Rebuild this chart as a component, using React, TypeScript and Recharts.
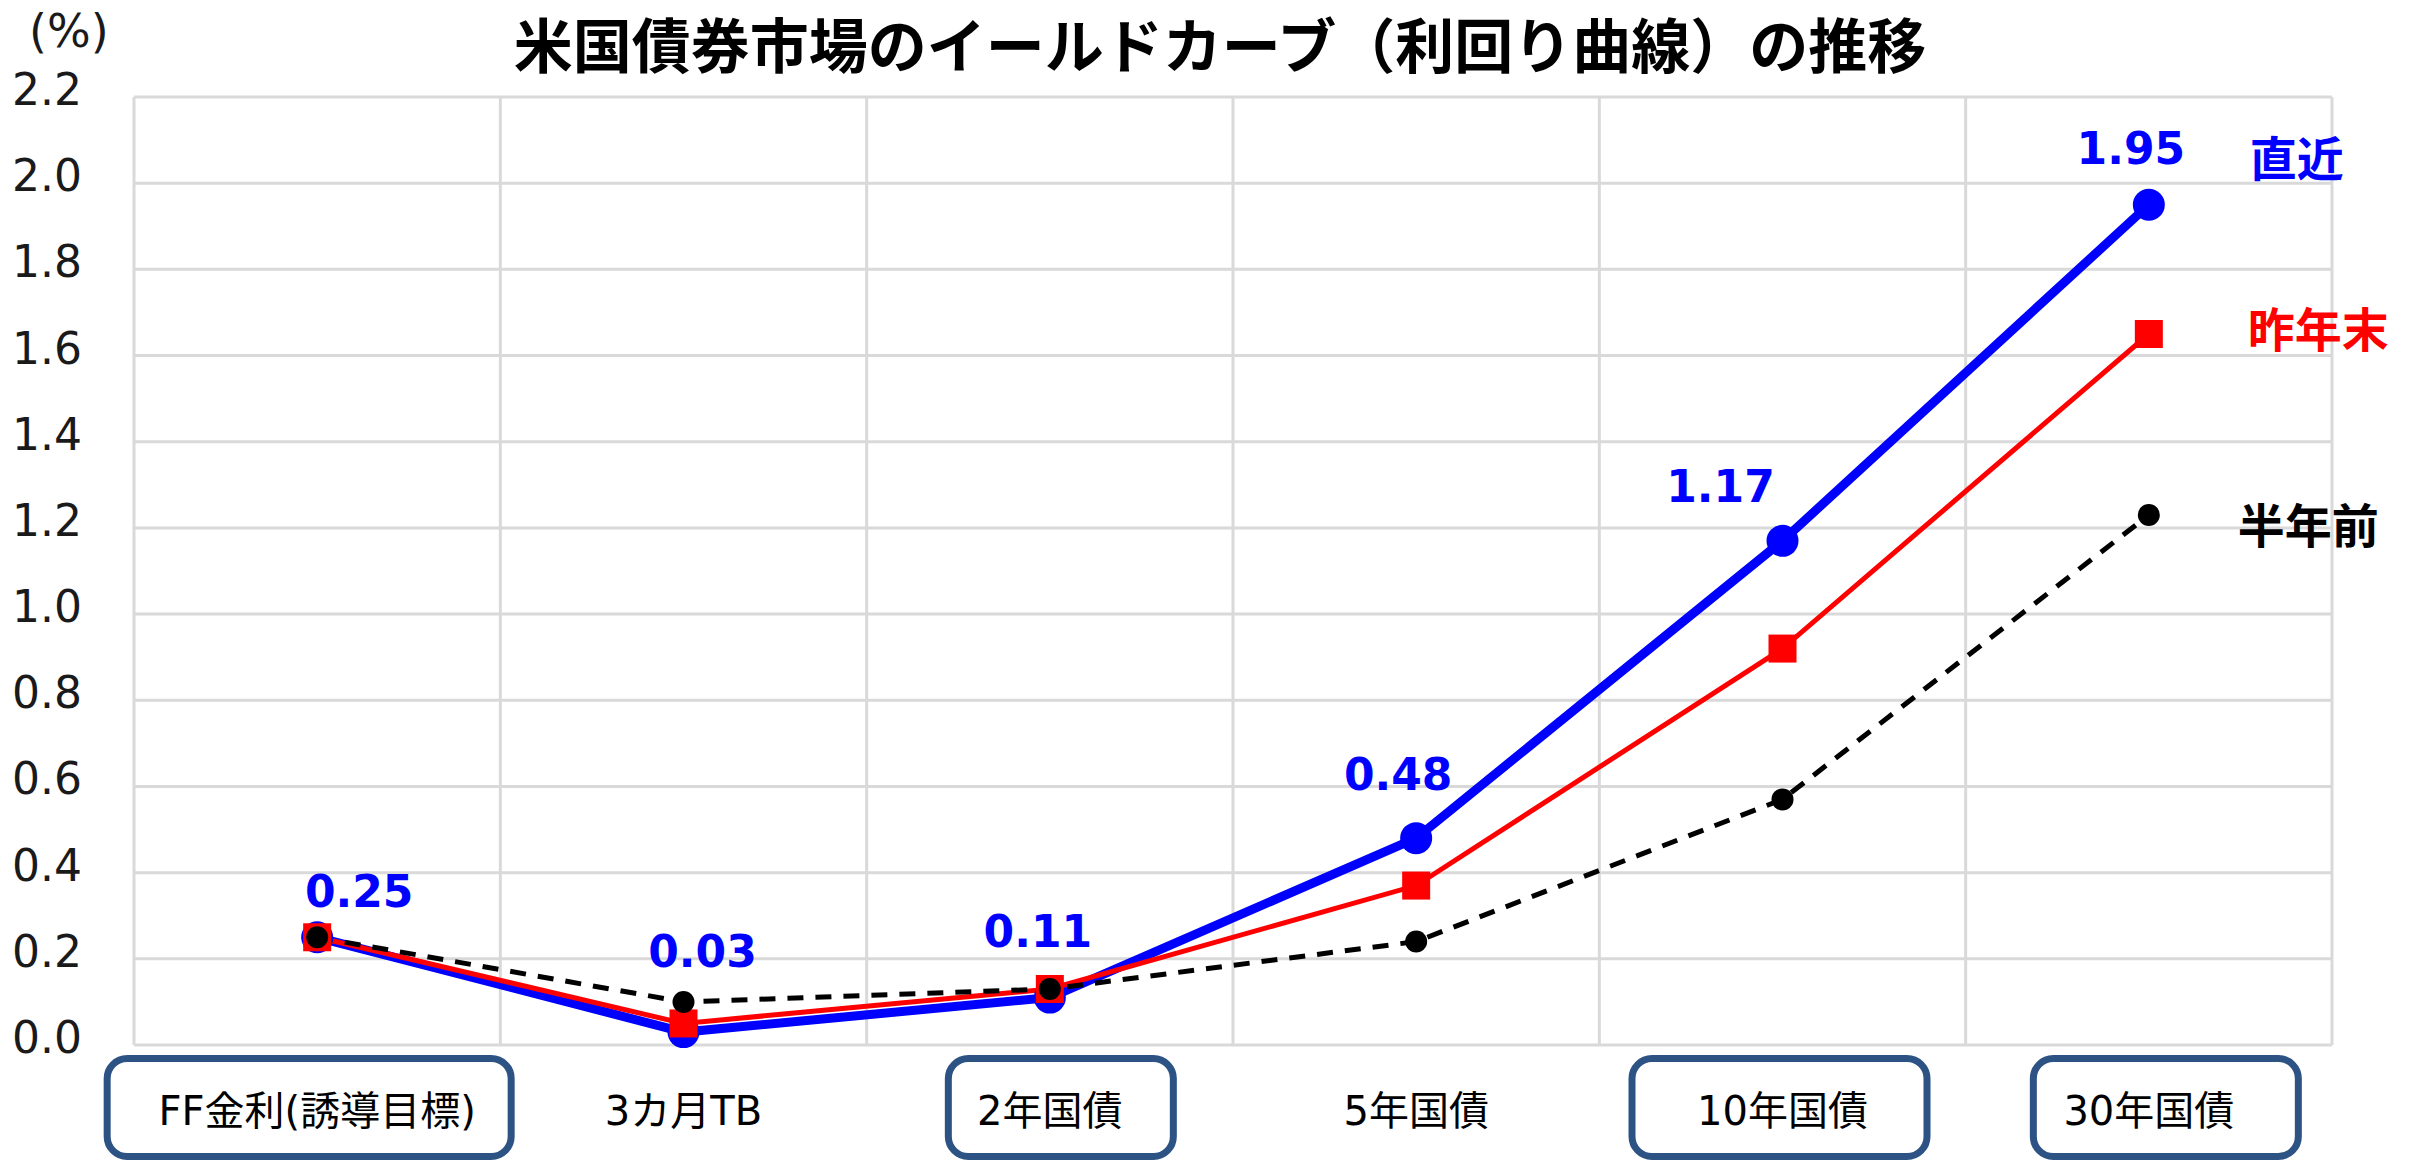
import React from 'react';
import { LineChart, Line, XAxis, YAxis, CartesianGrid, LabelList } from 'recharts';

const categories = ['FF金利(誘導目標)', '3カ月TB', '2年国債', '5年国債', '10年国債', '30年国債'];
const latest = [0.25, 0.03, 0.11, 0.48, 1.17, 1.95];
const lastYearEnd = [0.25, 0.05, 0.13, 0.37, 0.92, 1.65];
const halfYearAgo = [0.25, 0.1, 0.13, 0.24, 0.57, 1.23];
const yTicks = [0, 0.2, 0.4, 0.6, 0.8, 1.0, 1.2, 1.4, 1.6, 1.8, 2.0, 2.2];
const seriesNames = ['直近', '昨年末', '半年前'];
const title = '米国債券市場のイールドカーブ（利回り曲線）の推移';
const unitLabel = '(%)';

const data = categories.map((name, i) => ({
  pos: i + 0.5,
  name,
  latest: latest[i],
  lastYearEnd: lastYearEnd[i],
  halfYearAgo: halfYearAgo[i],
}));
const xTicks = categories.map((_, i) => i + 0.5);

// styling / layout (not data)
const W = 2407;
const H = 1157;
const LATIN = "'DejaVu Sans', 'Noto Sans CJK JP', sans-serif";
const CJK = "'Noto Sans CJK JP', 'DejaVu Sans', sans-serif";
const BLUE = '#0000FF';
const RED = '#FF0000';
const BOX = '#2C5384';
const GRID = '#D9D9D9';

const valueLabelOffsets = [
  { dx: 42, dy: -30 },
  { dx: 19, dy: -65 },
  { dx: -12, dy: -51 },
  { dx: -18, dy: -48 },
  { dx: -62, dy: -39 },
  { dx: -18, dy: -41 },
];
const nameLabelStyle = [
  { dx: 101, dy: -29, color: BLUE },
  { dx: 99, dy: 13, color: RED },
  { dx: 89, dy: 28, color: '#000000' },
];
const boxStyle: Record<number, { dx: number; w: number }> = {
  0: { dx: -8, w: 404 },
  2: { dx: 11, w: 225 },
  4: { dx: -3, w: 295 },
  5: { dx: 17, w: 265 },
};

const YTick = (props: any) => {
  const { x, y, payload } = props;
  return (
    <text x={x} y={y + 8} textAnchor="end" fontSize={44} fontFamily={LATIN} fill="#1a1a1a">
      {Number(payload.value).toFixed(1)}
    </text>
  );
};

const XTick = (props: any) => {
  const { x, y, payload } = props;
  const idx = Math.floor(payload.value);
  const box = boxStyle[idx];
  return (
    <g>
      {box && (
        <rect
          x={x + box.dx - box.w / 2}
          y={y + 13.5}
          width={box.w}
          height={98}
          rx={20}
          ry={20}
          fill="none"
          stroke={BOX}
          strokeWidth={7}
        />
      )}
      <text x={x} y={y + 80} textAnchor="middle" fontSize={40} fontFamily={LATIN} fill="#000">
        {categories[idx]}
      </text>
    </g>
  );
};

const ValueLabel = (props: any) => {
  const { x, y, value, index } = props;
  const off = valueLabelOffsets[index] || { dx: 0, dy: -30 };
  return (
    <text
      x={x + off.dx}
      y={y + off.dy}
      textAnchor="middle"
      fontSize={44}
      fontWeight="bold"
      fontFamily={LATIN}
      fill={BLUE}
    >
      {Number(value).toFixed(2)}
    </text>
  );
};

const makeNameLabel = (s: number) => (props: any) => {
  const { x, y, index } = props;
  if (index !== categories.length - 1) return null;
  const st = nameLabelStyle[s];
  return (
    <text x={x + st.dx} y={y + st.dy} fontSize={47} fontWeight="bold" fontFamily={CJK} fill={st.color}>
      {seriesNames[s]}
    </text>
  );
};

const BlueDot = (props: any) => {
  const { cx, cy, index } = props;
  return <circle key={`b${index}`} cx={cx} cy={cy} r={16} fill={BLUE} />;
};
const RedDot = (props: any) => {
  const { cx, cy, index } = props;
  return <rect key={`r${index}`} x={cx - 14} y={cy - 14} width={28} height={28} fill={RED} />;
};
const BlackDot = (props: any) => {
  const { cx, cy, index } = props;
  return <circle key={`k${index}`} cx={cx} cy={cy} r={11} fill="#000" />;
};

export default function App() {
  return (
    <div style={{ position: 'relative', width: W, height: H, background: '#fff' }}>
      <div
        style={{
          position: 'absolute',
          left: 1212 - 900,
          width: 1800,
          top: 5,
          textAlign: 'center',
          fontFamily: CJK,
          fontWeight: 'bold',
          fontSize: 59,
          lineHeight: '59px',
          color: '#000',
          whiteSpace: 'nowrap',
        }}
      >
        {title}
      </div>
      <svg style={{ position: 'absolute', left: 0, top: -8 }} width={200} height={80}>
        <text x={21} y={47} fontSize={46} fontFamily={LATIN} fill="#1a1a1a">
          {unitLabel}
        </text>
      </svg>
      <LineChart
        width={W}
        height={H}
        data={data}
        margin={{ top: 89, right: 83, left: 0, bottom: 0 }}
      >
        <CartesianGrid
          stroke={GRID}
          strokeWidth={3}
          verticalCoordinatesGenerator={({ offset }: any) =>
            categories.concat(['']).map((_, k) => offset.left + (offset.width * k) / categories.length)
          }
        />
        <XAxis
          dataKey="pos"
          type="number"
          domain={[0, categories.length]}
          ticks={xTicks}
          interval={0}
          tick={<XTick />}
          tickLine={false}
          axisLine={false}
          tickSize={0}
          tickMargin={0}
          height={120}
        />
        <YAxis
          type="number"
          domain={[0, 2.2]}
          ticks={yTicks}
          interval={0}
          tick={<YTick />}
          tickLine={false}
          axisLine={false}
          tickSize={0}
          tickMargin={52}
          width={126}
        />
        <Line
          dataKey="latest"
          stroke={BLUE}
          strokeWidth={9}
          dot={BlueDot}
          activeDot={false}
          isAnimationActive={false}
        >
          <LabelList dataKey="latest" content={ValueLabel} />
          <LabelList dataKey="latest" content={makeNameLabel(0)} />
        </Line>
        <Line
          dataKey="lastYearEnd"
          stroke={RED}
          strokeWidth={5}
          dot={RedDot}
          activeDot={false}
          isAnimationActive={false}
        >
          <LabelList dataKey="lastYearEnd" content={makeNameLabel(1)} />
        </Line>
        <Line
          dataKey="halfYearAgo"
          stroke="#000"
          strokeWidth={5}
          strokeDasharray="16 12"
          dot={BlackDot}
          activeDot={false}
          isAnimationActive={false}
        >
          <LabelList dataKey="halfYearAgo" content={makeNameLabel(2)} />
        </Line>
      </LineChart>
    </div>
  );
}
